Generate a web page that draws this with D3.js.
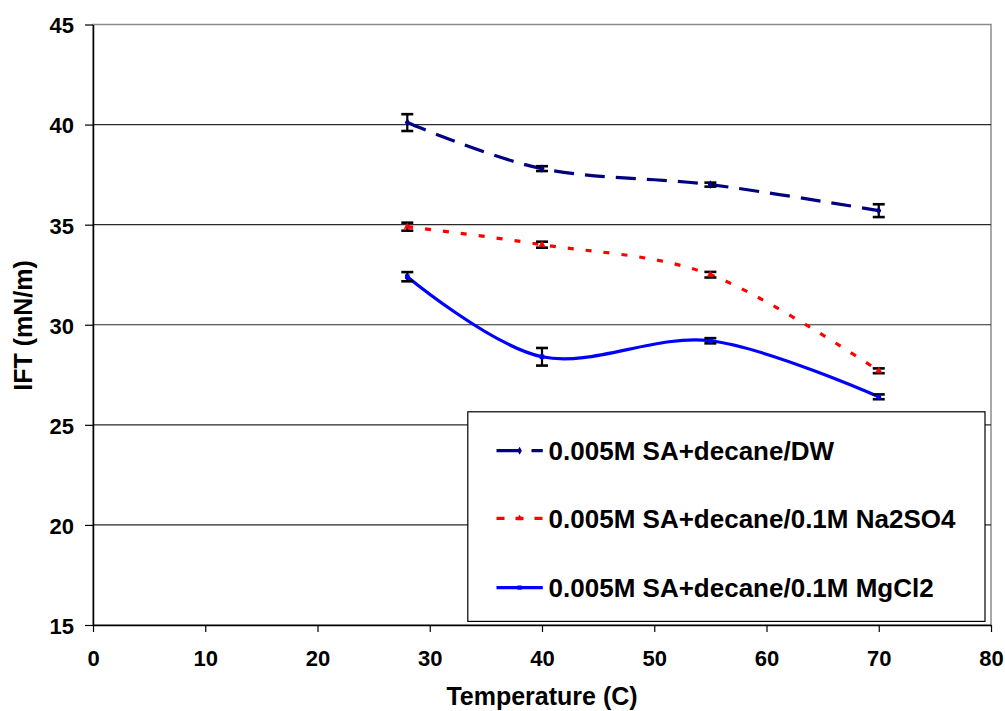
<!DOCTYPE html>
<html>
<head>
<meta charset="utf-8">
<script src="https://cdn.jsdelivr.net/npm/d3@7"></script>
<style>
  html, body { margin: 0; padding: 0; background: #fff; }
  svg { display: block; font-family: "Liberation Sans", Arial, sans-serif; font-weight: bold; }
</style>
</head>
<body>
<svg id="chart" width="1005" height="711"></svg>
<script>
// ---- data ----
const temperatures = [28, 40, 55, 70];
const seriesNames = [
  "0.005M SA+decane/DW",
  "0.005M SA+decane/0.1M Na2SO4",
  "0.005M SA+decane/0.1M MgCl2"
];
const iftDW     = [40.1, 37.8, 37.0, 35.7];
const errDW     = [0.42, 0.12, 0.1, 0.32];
const iftNa2SO4 = [34.9, 34.0, 32.5, 27.7];
const errNa2SO4 = [0.2, 0.15, 0.14, 0.12];
const iftMgCl2  = [32.4, 28.4, 29.2, 26.4];
const errMgCl2  = [0.23, 0.44, 0.13, 0.12];
const xTicks = [0, 10, 20, 30, 40, 50, 60, 70, 80];
const yTicks = [15, 20, 25, 30, 35, 40, 45];
const xTitle = "Temperature (C)";
const yTitle = "IFT (mN/m)";

// ---- layout ----
const svg = d3.select("#chart");
const L = 93, R = 991, T = 24.5, B = 625;
const x = d3.scaleLinear().domain([0, 80]).range([L, R]);
const y = d3.scaleLinear().domain([15, 45]).range([B, T]);

svg.append("rect").attr("width", 1005).attr("height", 711).attr("fill", "#fff");

// plot area border (gray)
svg.append("rect").attr("x", L).attr("y", T).attr("width", R - L).attr("height", B - T)
  .attr("fill", "#fff").attr("stroke", "#8c8c8c").attr("stroke-width", 1.5);

// gridlines
svg.append("g").selectAll("line").data(yTicks.filter(v => v > 15 && v < 45)).join("line")
  .attr("x1", L).attr("x2", R).attr("y1", d => y(d)).attr("y2", d => y(d))
  .attr("stroke", "#2a2a2a").attr("stroke-width", 1.2);

// axes
const yAxis = d3.axisLeft(y).tickValues(yTicks).tickSize(8).tickSizeOuter(0).tickPadding(11);
const gy = svg.append("g").attr("transform", `translate(${L},0)`).call(yAxis);
gy.select(".domain").attr("stroke", "#000").attr("stroke-width", 1.5);
gy.selectAll(".tick line").attr("stroke", "#000").attr("stroke-width", 1.2);
gy.selectAll(".tick text").attr("font-size", 22).attr("font-weight", "bold")
  .attr("font-family", "Liberation Sans, Arial, sans-serif").attr("fill", "#000").attr("dy", "0.38em");

const xAxis = d3.axisBottom(x).tickValues(xTicks).tickSize(7).tickSizeOuter(0).tickPadding(18);
const gx = svg.append("g").attr("transform", `translate(0,${B})`).call(xAxis);
gx.select(".domain").attr("stroke", "#000").attr("stroke-width", 1.5);
gx.selectAll(".tick line").attr("stroke", "#000").attr("stroke-width", 1.2);
gx.selectAll(".tick text").attr("font-size", 22).attr("font-weight", "bold")
  .attr("font-family", "Liberation Sans, Arial, sans-serif").attr("fill", "#000");

// axis titles
svg.append("text").attr("x", (L + R) / 2).attr("y", 705).attr("text-anchor", "middle")
  .attr("font-size", 25).text(xTitle);
svg.append("text").attr("transform", "translate(32,325.5) rotate(-90)").attr("text-anchor", "middle")
  .attr("font-size", 25).text(yTitle);

// series
const series = [
  { name: seriesNames[0], vals: iftDW, err: errDW, color: "#000080", dash: "20,11", legendDash: "24,11", marker: "diamond" },
  { name: seriesNames[1], vals: iftNa2SO4, err: errNa2SO4, color: "#ff0000", dash: "6,12", legendDash: "8,11", marker: "triangle" },
  { name: seriesNames[2], vals: iftMgCl2, err: errMgCl2, color: "#0000ff", dash: null, legendDash: null, marker: "square" }
];

const line = d3.line().x(d => x(d.t)).y(d => y(d.v)).curve(d3.curveCatmullRom.alpha(0));
const symType = { diamond: d3.symbolDiamond, triangle: d3.symbolTriangle, square: d3.symbolSquare };

series.forEach(s => {
  const pts = temperatures.map((t, i) => ({ t, v: s.vals[i], e: s.err[i] }));
  svg.append("path").datum(pts).attr("d", line).attr("fill", "none")
    .attr("stroke", s.color).attr("stroke-width", 3.2)
    .attr("stroke-dasharray", s.dash);
  // error bars
  const eg = svg.append("g").attr("stroke", "#000").attr("stroke-width", 2.2);
  pts.forEach(p => {
    eg.append("line").attr("x1", x(p.t)).attr("x2", x(p.t)).attr("y1", y(p.v + p.e)).attr("y2", y(p.v - p.e));
    eg.append("line").attr("x1", x(p.t) - 6).attr("x2", x(p.t) + 6).attr("y1", y(p.v + p.e)).attr("y2", y(p.v + p.e)).attr("stroke-width", 2.6);
    eg.append("line").attr("x1", x(p.t) - 6).attr("x2", x(p.t) + 6).attr("y1", y(p.v - p.e)).attr("y2", y(p.v - p.e)).attr("stroke-width", 2.6);
  });
  svg.append("g").selectAll("path").data(pts).join("path")
    .attr("transform", p => `translate(${x(p.t)},${y(p.v)})`)
    .attr("d", d3.symbol().type(symType[s.marker]).size(22))
    .attr("fill", s.color);
});

// legend
const lg = svg.append("g");
lg.append("rect").attr("x", 467.8).attr("y", 411.8).attr("width", 985 - 467.8).attr("height", 621.4 - 411.8)
  .attr("fill", "#fff").attr("stroke", "#000").attr("stroke-width", 1.2);
const legendY = [450.7, 518.3, 587.6];
series.forEach((s, i) => {
  const yy = legendY[i];
  lg.append("line").attr("x1", 496.5).attr("x2", 542.8).attr("y1", yy).attr("y2", yy)
    .attr("stroke", s.color).attr("stroke-width", 3.2).attr("stroke-dasharray", s.legendDash);
  lg.append("path").attr("transform", `translate(519.6,${yy})`)
    .attr("d", d3.symbol().type(symType[s.marker]).size(18)).attr("fill", s.color);
  lg.append("text").attr("x", 548.6).attr("y", yy + 9.5).attr("font-size", 26).text(s.name);
});
</script>
</body>
</html>
